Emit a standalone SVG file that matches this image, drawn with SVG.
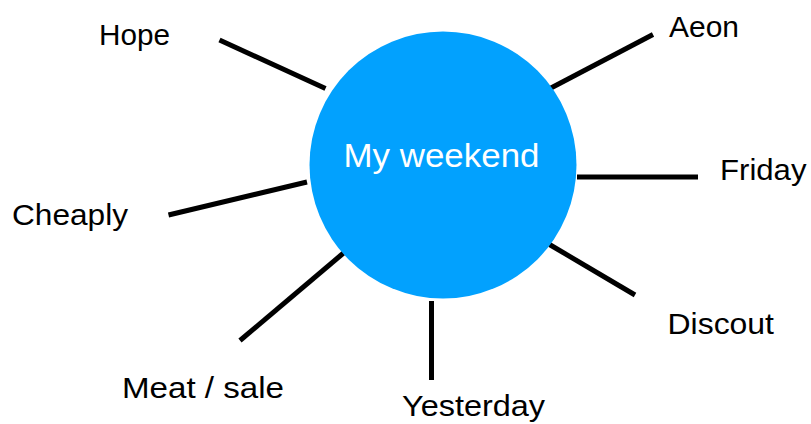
<svg xmlns="http://www.w3.org/2000/svg" width="811" height="424" viewBox="0 0 811 424">
<style>
.lbl{font-family:"Liberation Sans",Arial,sans-serif;font-size:29px;fill:#000}
.ctr{font-family:"Liberation Sans",Arial,sans-serif;font-size:33px;fill:#fff}
.ln{stroke:#000;stroke-width:5;fill:none}
</style>
<rect width="811" height="424" fill="#fff"/>
<g id="connectors">
<line class="ln" x1="219.5" y1="40" x2="325.5" y2="88.5"/>
<line class="ln" x1="550" y1="88.5" x2="653" y2="34.5"/>
<line class="ln" x1="577" y1="177" x2="698" y2="177"/>
<line class="ln" x1="549.5" y1="244.5" x2="635" y2="295"/>
<line class="ln" x1="431.5" y1="301" x2="431.5" y2="380"/>
<line class="ln" x1="343.5" y1="253" x2="240" y2="340.5"/>
<line class="ln" x1="307" y1="182" x2="168.5" y2="215"/>
</g>
<g id="center">
<circle cx="443" cy="165" r="133.5" fill="#02A1FE"/>
<text class="ctr" x="343.5" y="166.5" textLength="196" lengthAdjust="spacingAndGlyphs">My weekend</text>
</g>
<g id="hope"><text class="lbl" x="99" y="44.5" textLength="71" lengthAdjust="spacingAndGlyphs">Hope</text></g>
<g id="aeon"><text class="lbl" x="669" y="36.5" textLength="70" lengthAdjust="spacingAndGlyphs">Aeon</text></g>
<g id="friday"><text class="lbl" x="720" y="179.5" textLength="86.5" lengthAdjust="spacingAndGlyphs">Friday</text></g>
<g id="discout"><text class="lbl" x="667.5" y="333.5" textLength="106.5" lengthAdjust="spacingAndGlyphs">Discout</text></g>
<g id="yesterday"><text class="lbl" x="402" y="416" textLength="143" lengthAdjust="spacingAndGlyphs">Yesterday</text></g>
<g id="meat"><text class="lbl" x="122" y="398" textLength="162" lengthAdjust="spacingAndGlyphs">Meat / sale</text></g>
<g id="cheaply"><text class="lbl" x="12" y="225" textLength="116" lengthAdjust="spacingAndGlyphs">Cheaply</text></g>
</svg>
